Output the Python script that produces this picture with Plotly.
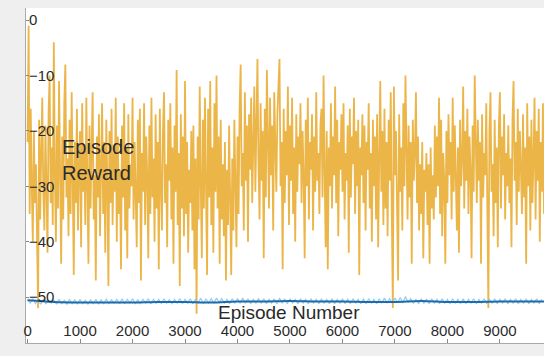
import numpy as np
import plotly.graph_objects as go

# Episode reward (orange), one value every 20 episodes
reward = [
    -22, -1, -35, -16, -30, -40, -20, -33, -26, -45,
    -52, -18, -36, -24, -14, -31, -38, -19, -29, -42,
    -17, -10, -33, -23, -37, -4, -28, -40, -19, -34,
    -11, -30, -44, -21, -36, -15, -8, -32, -25, -39,
    -18, -35, -13, -29, -46, -22, -33, -16, -38, -27,
    -20, -41, -15, -31, -24, -37, -14, -30, -44, -19,
    -34, -23, -13, -36, -28, -47, -21, -32, -17, -39,
    -25, -15, -35, -22, -42, -18, -30, -48, -20, -33,
    -16, -37, -24, -31, -14, -40, -21, -35, -27, -45,
    -19, -32, -15, -38, -23, -43, -17, -34, -26, -30,
    -14, -36, -22, -29, -41, -18, -33, -16, -47, -24,
    -31, -15, -37, -21, -28, -43, -19, -35, -14, -32,
    -25, -40, -17, -34, -22, -45, -16, -30, -38, -20,
    -13, -33, -26, -41, -18, -29, -15, -36, -23, -44,
    -19, -31, -9, -37, -24, -48, -17, -34, -21, -39,
    -11, -35, -22, -42, -27, -33, -20, -38, -19, -45,
    -25, -53, -21, -36, -12, -30, -43, -18, -34, -14,
    -28, -46, -16, -32, -11, -37, -23, -42, -15, -31,
    -10, -34, -21, -44, -18, -36, -26, -39, -22, -47,
    -27, -37, -19, -33, -46, -25, -38, -18, -32, -41,
    -21, -35, -16, -8, -30, -24, -38, -13, -29, -19,
    -40, -17, -27, -14, -33, -22, -12, -31, -18, -7,
    -26, -36, -15, -29, -20, -43, -16, -32, -9, -24,
    -34, -14, -28, -19, -38, -13, -25, -31, -17, -11,
    -7, -30, -22, -45, -16, -33, -20, -28, -12, -37,
    -19, -29, -14, -35, -23, -40, -17, -31, -21, -26,
    -15, -33, -20, -28, -43, -18, -30, -14, -36, -22,
    -27, -17, -38, -21, -31, -13, -29, -24, -35, -19,
    -16, -32, -10, -27, -41, -20, -45, -23, -30, -15,
    -34, -21, -28, -12, -33, -18, -39, -22, -27, -17,
    -31, -15, -36, -24, -29, -19, -42, -16, -32, -21,
    -26, -14, -35, -20, -30, -18, -46, -23, -28, -17,
    -33, -19, -38, -22, -27, -15, -34, -24, -40, -18,
    -30, -21, -36, -17, -41, -25, -11, -31, -20, -37,
    -16, -34, -22, -39, -18, -29, -13, -35, -52, -12,
    -28, -20, -33, -47, -17, -31, -23, -38, -15, -30,
    -10, -27, -36, -19, -32, -22, -44, -18, -29, -24,
    -13, -33, -21, -38, -26, -35, -22, -43, -27, -31,
    -24, -37, -26, -44, -23, -34, -28, -36, -19, -32,
    -21, -30, -14, -35, -18, -39, -24, -29, -44, -20,
    -33, -17, -28, -22, -36, -14, -31, -19, -27, -38,
    -23, -42, -18, -30, -25, -12, -34, -20, -29, -16,
    -35, -21, -27, -43, -19, -31, -10, -26, -33, -18,
    -29, -22, -44, -17, -32, -24, -28, -15, -37, -52,
    -20, -13, -31, -26, -39, -18, -33, -23, -41, -19,
    -13, -34, -21, -28, -17, -36, -24, -30, -19, -33,
    -25, -41, -18, -11, -29, -22, -37, -16, -31, -20,
    -27, -35, -17, -32, -23, -44, -15, -30, -21, -38,
    -18, -33, -25, -14, -36, -20, -29, -16, -40, -22,
    -31, -15, -35, -24,
]
reward_step = 20

# Second series (light blue, noisy), one value every 50 episodes
baseline_raw = [
    -50.4, -51.1, -50.3, -51.2, -50.5, -51.3, -50.4, -51.2, -50.6, -51.1,
    -50.5, -51.3, -50.4, -51.2, -50.6, -51.3, -50.4, -51.2, -50.5, -51.3,
    -50.4, -51.2, -50.6, -51.3, -50.5, -51.2, -50.4, -51.3, -50.5, -51.2,
    -50.4, -51.2, -50.5, -51.1, -50.4, -51.2, -50.3, -51.2, -50.4, -51.1,
    -50.3, -51.2, -50.5, -51.2, -50.4, -51.1, -50.3, -51.2, -50.4, -51.1,
    -50.4, -51.2, -50.3, -51.1, -50.5, -51.2, -50.4, -51.1, -50.3, -51.2,
    -50.4, -51.1, -50.3, -51.2, -50.4, -51.1, -50.2, -51.2, -50.3, -51.1,
    -50.3, -51.1, -50.2, -51.0, -50.3, -51.1, -50.4, -51.2, -50.3, -51.1,
    -50.3, -51.1, -50.2, -51.1, -50.3, -51.2, -50.4, -51.1, -50.3, -51.1,
    -50.3, -51.2, -50.4, -51.1, -50.3, -51.2, -50.2, -51.1, -50.3, -51.2,
    -50.3, -51.1, -50.4, -51.2, -50.3, -51.1, -50.4, -51.2, -50.3, -51.1,
    -50.4, -51.2, -50.3, -51.1, -50.4, -51.2, -50.3, -51.2, -50.4, -51.1,
    -50.3, -51.2, -50.4, -51.2, -50.3, -51.1, -50.4, -51.2, -50.3, -51.2,
    -50.3, -51.1, -50.4, -51.2, -50.3, -51.1, -50.2, -51.1, -50.3, -51.1,
    -50.2, -51.0, -50.1, -51.1, -49.9, -51.0, -50.3, -51.1, -50.4, -51.2,
    -50.3, -51.1, -50.4, -51.2, -50.3, -51.1, -50.4, -51.2, -50.3, -51.1,
    -50.4, -51.2, -50.3, -51.1, -50.4, -51.2, -50.3, -51.2, -50.4, -51.1,
    -50.3, -51.2, -50.4, -51.1, -50.3, -51.2, -50.4, -51.1, -50.3, -51.2,
    -50.4, -51.1, -50.3, -51.2, -50.4, -51.1, -50.3, -51.2, -50.4, -51.1,
    -50.3, -51.2, -50.4, -51.1, -50.3, -51.2, -50.4,
]
baseline_step = 50

# Smoothed second series (dark blue), one value every 500 episodes
baseline_avg = [-50.6, -50.9, -51.0, -51.0, -51.0, -50.9, -50.9, -51.0,
                -50.8, -50.8, -50.7, -50.8, -50.8, -50.9, -50.9, -50.7,
                -50.9, -50.9, -50.8, -50.8, -50.8]
avg_step = 500

x_ticks = [0, 1000, 2000, 3000, 4000, 5000, 6000, 7000, 8000, 9000]
y_ticks = [0, -10, -20, -30, -40, -50]

fig = go.Figure()
fig.add_trace(go.Scatter(
    x=np.arange(len(reward)) * reward_step, y=reward, mode="lines",
    line=dict(color="rgba(231,165,32,0.82)", width=1.8), showlegend=False))
fig.add_trace(go.Scatter(
    x=np.arange(len(baseline_raw)) * baseline_step, y=baseline_raw, mode="lines",
    line=dict(color="rgba(130,195,238,0.85)", width=1.2), showlegend=False))
fig.add_trace(go.Scatter(
    x=np.arange(len(baseline_avg)) * avg_step, y=baseline_avg, mode="lines",
    line=dict(color="#1f6aa8", width=2, shape="spline"), showlegend=False))

font = dict(family="Liberation Sans, Arial, sans-serif", color="#2a2a2a")
common = dict(ticks="inside", tickcolor="#888", ticklabelposition="inside",
              ticklabeloverflow="allow", showgrid=False, zeroline=False,
              showline=True, linecolor="#aaa", linewidth=1, automargin=False,
              tickfont=dict(size=15, **font))
fig.update_layout(
    width=544, height=356,
    margin=dict(l=26, r=0, t=8, b=13),
    paper_bgcolor="#efefef", plot_bgcolor="white",
    font=dict(size=15, **font),
    xaxis=dict(range=[-30, 9840], tickvals=x_ticks, ticklen=4,
               ticklabelstandoff=0, **common),
    yaxis=dict(range=[-58.3, 2.2], tickvals=y_ticks, ticklen=3, **common),
    annotations=[
        dict(text="Episode<br>Reward", xref="paper", yref="paper",
             x=(60 - 26) / 518, y=(343 - 134) / 335, xanchor="left", yanchor="top",
             align="left", showarrow=False, font=dict(size=20, **font)),
        dict(text="Episode Number", xref="paper", yref="paper",
             x=(289 - 26) / 518, y=(343 - 312) / 335, xanchor="center", yanchor="middle",
             showarrow=False, font=dict(size=19, **font)),
    ],
)
fig.write_html(
    "out.html",
    config={"displayModeBar": False},
    post_script="document.body.style.margin='0';document.body.style.background='#efefef';",
)
